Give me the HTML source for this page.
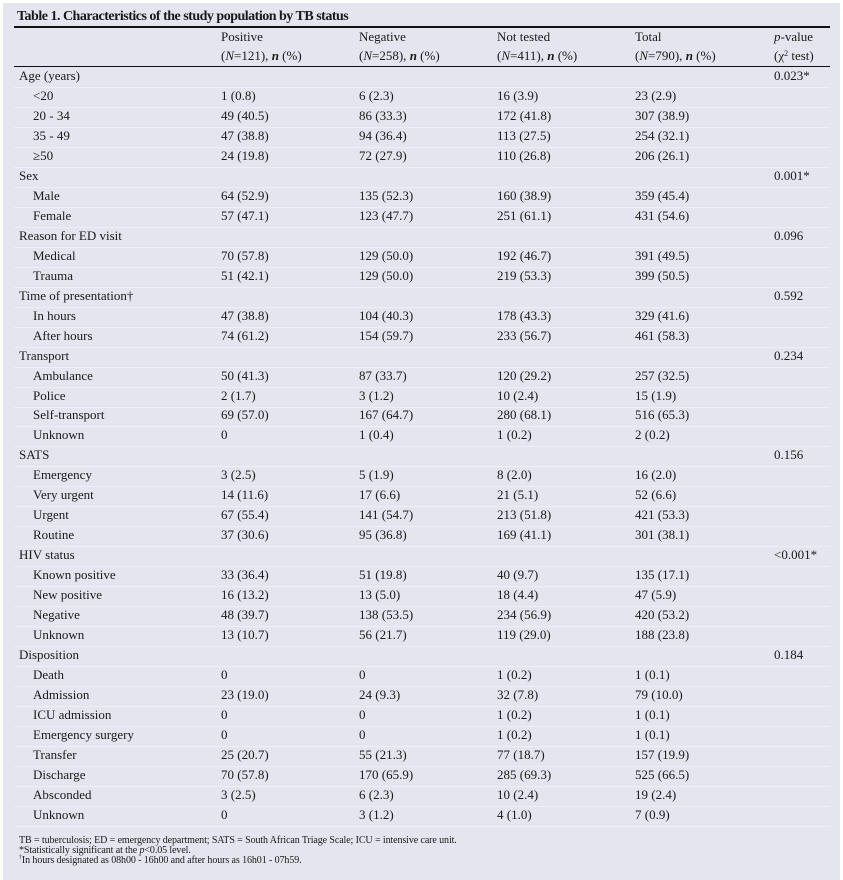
<!DOCTYPE html>
<html><head><meta charset="utf-8"><style>
body{margin:0;background:#fff;width:843px;height:880px;position:relative;overflow:hidden;font-family:"Liberation Serif",serif;color:#1a1a1a}
#panel{position:absolute;left:3px;top:3px;width:837px;height:877px;background:#e4e5ee}
.t{position:absolute;font-size:13px;white-space:nowrap;line-height:14px}
.r{position:absolute;left:14px;width:816px;height:1px;background:#eeeff5}
.title{position:absolute;left:17px;top:9px;font-size:14px;font-weight:bold;letter-spacing:-0.5px;white-space:nowrap}
.rule{position:absolute;left:14px;width:816px;background:#111}
.fn{position:absolute;left:19px;font-size:10px;white-space:nowrap;line-height:10px;letter-spacing:-0.1px}
sup{line-height:0;vertical-align:4px}
</style></head><body>
<div id="panel"></div>
<div class="title">Table 1. Characteristics of the study population by TB status</div>
<div class="rule" style="top:26px;height:2px"></div>
<div class="t" style="left:221px;top:30px">Positive</div>
<div class="t" style="left:221px;top:49px">(<i>N</i>=121), <b><i>n</i></b> (%)</div>
<div class="t" style="left:359px;top:30px">Negative</div>
<div class="t" style="left:359px;top:49px">(<i>N</i>=258), <b><i>n</i></b> (%)</div>
<div class="t" style="left:497px;top:30px">Not tested</div>
<div class="t" style="left:497px;top:49px">(<i>N</i>=411), <b><i>n</i></b> (%)</div>
<div class="t" style="left:635px;top:30px">Total</div>
<div class="t" style="left:635px;top:49px">(<i>N</i>=790), <b><i>n</i></b> (%)</div>
<div class="t" style="left:774px;top:30px"><i>p</i>-value</div>
<div class="t" style="left:774px;top:49px">(χ<sup style="font-size:8px">2</sup> test)</div>
<div class="rule" style="top:66px;height:1px"></div>
<div id="rows"></div>
<div class="fn" style="top:836px">TB = tuberculosis; ED = emergency department; SATS = South African Triage Scale; ICU = intensive care unit.</div>
<div class="fn" style="top:846px">*Statistically significant at the <i>p</i>&lt;0.05 level.</div>
<div class="fn" style="top:856px"><sup style="font-size:6px">†</sup>In hours designated as 08h00 - 16h00 and after hours as 16h01 - 07h59.</div>
<script>
const rows=[
["Age (years)","","","","","0.023*",1],
["<20","1 (0.8)","6 (2.3)","16 (3.9)","23 (2.9)",""],
["20 - 34","49 (40.5)","86 (33.3)","172 (41.8)","307 (38.9)",""],
["35 - 49","47 (38.8)","94 (36.4)","113 (27.5)","254 (32.1)",""],
["≥50","24 (19.8)","72 (27.9)","110 (26.8)","206 (26.1)",""],
["Sex","","","","","0.001*",1],
["Male","64 (52.9)","135 (52.3)","160 (38.9)","359 (45.4)",""],
["Female","57 (47.1)","123 (47.7)","251 (61.1)","431 (54.6)",""],
["Reason for ED visit","","","","","0.096",1],
["Medical","70 (57.8)","129 (50.0)","192 (46.7)","391 (49.5)",""],
["Trauma","51 (42.1)","129 (50.0)","219 (53.3)","399 (50.5)",""],
["Time of presentation†","","","","","0.592",1],
["In hours","47 (38.8)","104 (40.3)","178 (43.3)","329 (41.6)",""],
["After hours","74 (61.2)","154 (59.7)","233 (56.7)","461 (58.3)",""],
["Transport","","","","","0.234",1],
["Ambulance","50 (41.3)","87 (33.7)","120 (29.2)","257 (32.5)",""],
["Police","2 (1.7)","3 (1.2)","10 (2.4)","15 (1.9)",""],
["Self-transport","69 (57.0)","167 (64.7)","280 (68.1)","516 (65.3)",""],
["Unknown","0","1 (0.4)","1 (0.2)","2 (0.2)",""],
["SATS","","","","","0.156",1],
["Emergency","3 (2.5)","5 (1.9)","8 (2.0)","16 (2.0)",""],
["Very urgent","14 (11.6)","17 (6.6)","21 (5.1)","52 (6.6)",""],
["Urgent","67 (55.4)","141 (54.7)","213 (51.8)","421 (53.3)",""],
["Routine","37 (30.6)","95 (36.8)","169 (41.1)","301 (38.1)",""],
["HIV status","","","","","<0.001*",1],
["Known positive","33 (36.4)","51 (19.8)","40 (9.7)","135 (17.1)",""],
["New positive","16 (13.2)","13 (5.0)","18 (4.4)","47 (5.9)",""],
["Negative","48 (39.7)","138 (53.5)","234 (56.9)","420 (53.2)",""],
["Unknown","13 (10.7)","56 (21.7)","119 (29.0)","188 (23.8)",""],
["Disposition","","","","","0.184",1],
["Death","0","0","1 (0.2)","1 (0.1)",""],
["Admission","23 (19.0)","24 (9.3)","32 (7.8)","79 (10.0)",""],
["ICU admission","0","0","1 (0.2)","1 (0.1)",""],
["Emergency surgery","0","0","1 (0.2)","1 (0.1)",""],
["Transfer","25 (20.7)","55 (21.3)","77 (18.7)","157 (19.9)",""],
["Discharge","70 (57.8)","170 (65.9)","285 (69.3)","525 (66.5)",""],
["Absconded","3 (2.5)","6 (2.3)","10 (2.4)","19 (2.4)",""],
["Unknown","0","3 (1.2)","4 (1.0)","7 (0.9)",""]
];
const colX=[0,221,359,497,635,774];
const box=document.getElementById('rows');
rows.forEach((r,i)=>{
  const y=68+i*19.97;
  const line=document.createElement('div');
  line.className='r';
  line.style.top=(y+19)+'px';
  
  
  box.appendChild(line);
  for(let c=0;c<6;c++){
    if(!r[c])continue;
    const d=document.createElement('div');
    d.className='t';
    d.textContent=r[c];
    let x=colX[c];
    if(c===0)x=r[6]?19:33;
    d.style.left=x+'px';
    d.style.top=(y+1)+'px';
    
    
    box.appendChild(d);
  }
});
</script>
</body></html>
